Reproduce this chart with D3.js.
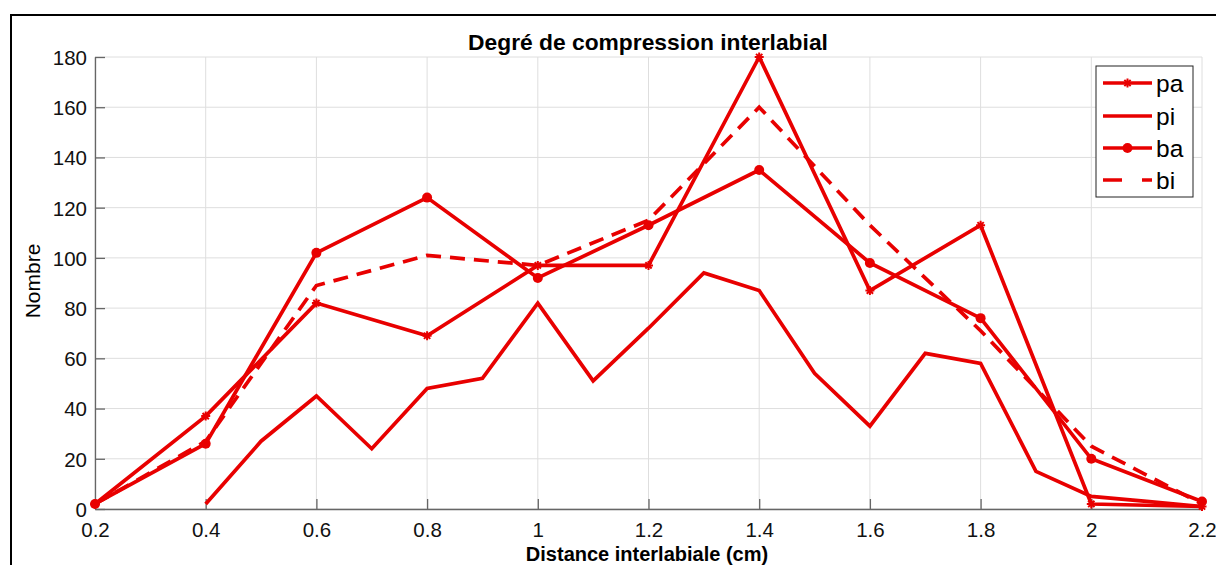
<!DOCTYPE html>
<html><head><meta charset="utf-8">
<script src="https://cdn.jsdelivr.net/npm/d3@7"></script>
<style>body{margin:0;background:#fff}svg{display:block}text{font-family:"Liberation Sans",Arial,Helvetica,sans-serif}</style>
</head><body>
<script>
const xStep2 = [0.2,0.4,0.6,0.8,1.0,1.2,1.4,1.6,1.8,2.0,2.2];
const xStep1 = [0.4,0.5,0.6,0.7,0.8,0.9,1.0,1.1,1.2,1.3,1.4,1.5,1.6,1.7,1.8,1.9,2.0,2.1,2.2];
const paValues = [2,37,82,69,97,97,180,87,113,2,1];
const piValues = [2,27,45,24,48,52,82,51,72,94,87,54,33,62,58,15,5,3,1];
const baValues = [2,26,102,124,92,113,135,98,76,20,3];
const biValues = [2,27,89,101,97,115,160,113,71,25,2];
const xTicks = [0.2,0.4,0.6,0.8,1,1.2,1.4,1.6,1.8,2,2.2];
const yTicks = [0,20,40,60,80,100,120,140,160,180];
const seriesNames = ["pa","pi","ba","bi"];

const W=1216,H=565, red="#e80000";
const svg=d3.select("body").append("svg").attr("width",W).attr("height",H);
svg.append("rect").attr("x",11).attr("y",15).attr("width",W).attr("height",H).attr("fill","#fff").attr("stroke","#000").attr("stroke-width",2);

const x=d3.scaleLinear().domain([0.2,2.2]).range([95,1202]);
const y=d3.scaleLinear().domain([0,180]).range([509,57]);

const g=svg.append("g");
g.selectAll(".gx").data(xTicks).join("line").attr("x1",d=>x(d)).attr("x2",d=>x(d)).attr("y1",y(0)).attr("y2",y(180)).attr("stroke","#dedede").attr("stroke-width",1);
g.selectAll(".gy").data(yTicks).join("line").attr("y1",d=>y(d)).attr("y2",d=>y(d)).attr("x1",x(0.2)).attr("x2",x(2.2)).attr("stroke","#dedede").attr("stroke-width",1);

const xAxis=d3.axisBottom(x).tickValues(xTicks).tickSizeInner(-10).tickSizeOuter(0).tickPadding(13).tickFormat(d=>d3.format("~g")(d));
const yAxis=d3.axisLeft(y).tickValues(yTicks).tickSizeInner(-10).tickSizeOuter(0).tickPadding(8);
const ax=svg.append("g").attr("transform",`translate(0,${y(0)})`).call(xAxis);
const ay=svg.append("g").attr("transform",`translate(${x(0.2)},0)`).call(yAxis);
[ax,ay].forEach(a=>{a.select(".domain").attr("stroke","#666").attr("stroke-width",1.3);a.selectAll(".tick line").attr("stroke","#666").attr("stroke-width",1.3);a.selectAll("text").attr("font-size",20.5).attr("fill","#111").attr("font-family","Liberation Sans, Arial, sans-serif");});
ax.selectAll("text").attr("dy","0.71em");
ay.selectAll("text").attr("dy","0.36em");

const line=d3.line().x(d=>x(d[0])).y(d=>y(d[1]));
const zip=(xs,ys)=>xs.map((v,i)=>[v,ys[i]]);
const pa=zip(xStep2,paValues), pi=zip(xStep1,piValues), ba=zip(xStep2,baValues), bi=zip(xStep2,biValues);
const LW=3.7;
const plot=svg.append("g");
plot.append("path").datum(bi).attr("d",line).attr("fill","none").attr("stroke",red).attr("stroke-width",LW).attr("stroke-dasharray","15,9");
plot.append("path").datum(pi).attr("d",line).attr("fill","none").attr("stroke",red).attr("stroke-width",LW);
plot.append("path").datum(ba).attr("d",line).attr("fill","none").attr("stroke",red).attr("stroke-width",LW);
plot.append("path").datum(pa).attr("d",line).attr("fill","none").attr("stroke",red).attr("stroke-width",LW);

function star(sel,cx,cy){
  const s=4.5;
  const p=`M${cx-s},${cy}H${cx+s}M${cx},${cy-s}V${cy+s}M${cx-s*0.7},${cy-s*0.7}L${cx+s*0.7},${cy+s*0.7}M${cx-s*0.7},${cy+s*0.7}L${cx+s*0.7},${cy-s*0.7}`;
  sel.append("path").attr("d",p).attr("stroke",red).attr("stroke-width",2).attr("fill","none");
}
pa.forEach(d=>star(plot,x(d[0]),y(d[1])));
plot.selectAll(".ba").data(ba).join("circle").attr("cx",d=>x(d[0])).attr("cy",d=>y(d[1])).attr("r",5).attr("fill",red);

svg.append("text").attr("x",648).attr("y",50).attr("text-anchor","middle").attr("font-weight","bold").attr("font-size",22.8).attr("fill","#000").text("Degré de compression interlabial");
svg.append("text").attr("x",647).attr("y",561).attr("text-anchor","middle").attr("font-weight","bold").attr("font-size",20).attr("fill","#000").text("Distance interlabiale (cm)");
svg.append("text").attr("transform","translate(40,281) rotate(-90)").attr("text-anchor","middle").attr("font-size",21).attr("fill","#000").text("Nombre");

const lg=svg.append("g");
lg.append("rect").attr("x",1096).attr("y",66).attr("width",97).attr("height",131).attr("fill","#fff").attr("stroke","#222").attr("stroke-width",1);
const ly=[83,116,148,180];
seriesNames.forEach((n,i)=>{
  const yy=ly[i];
  const l=lg.append("line").attr("x1",1103).attr("x2",1152).attr("y1",yy).attr("y2",yy).attr("stroke",red).attr("stroke-width",LW);
  if(n==="bi") l.attr("stroke-dasharray","19,20");
  if(n==="pa") star(lg,1127.5,yy);
  if(n==="ba") lg.append("circle").attr("cx",1127.5).attr("cy",yy).attr("r",5).attr("fill",red);
  lg.append("text").attr("x",1156).attr("y",yy).attr("dy","0.36em").attr("font-size",24.5).attr("fill","#000").text(n);
});
</script>
</body></html>
